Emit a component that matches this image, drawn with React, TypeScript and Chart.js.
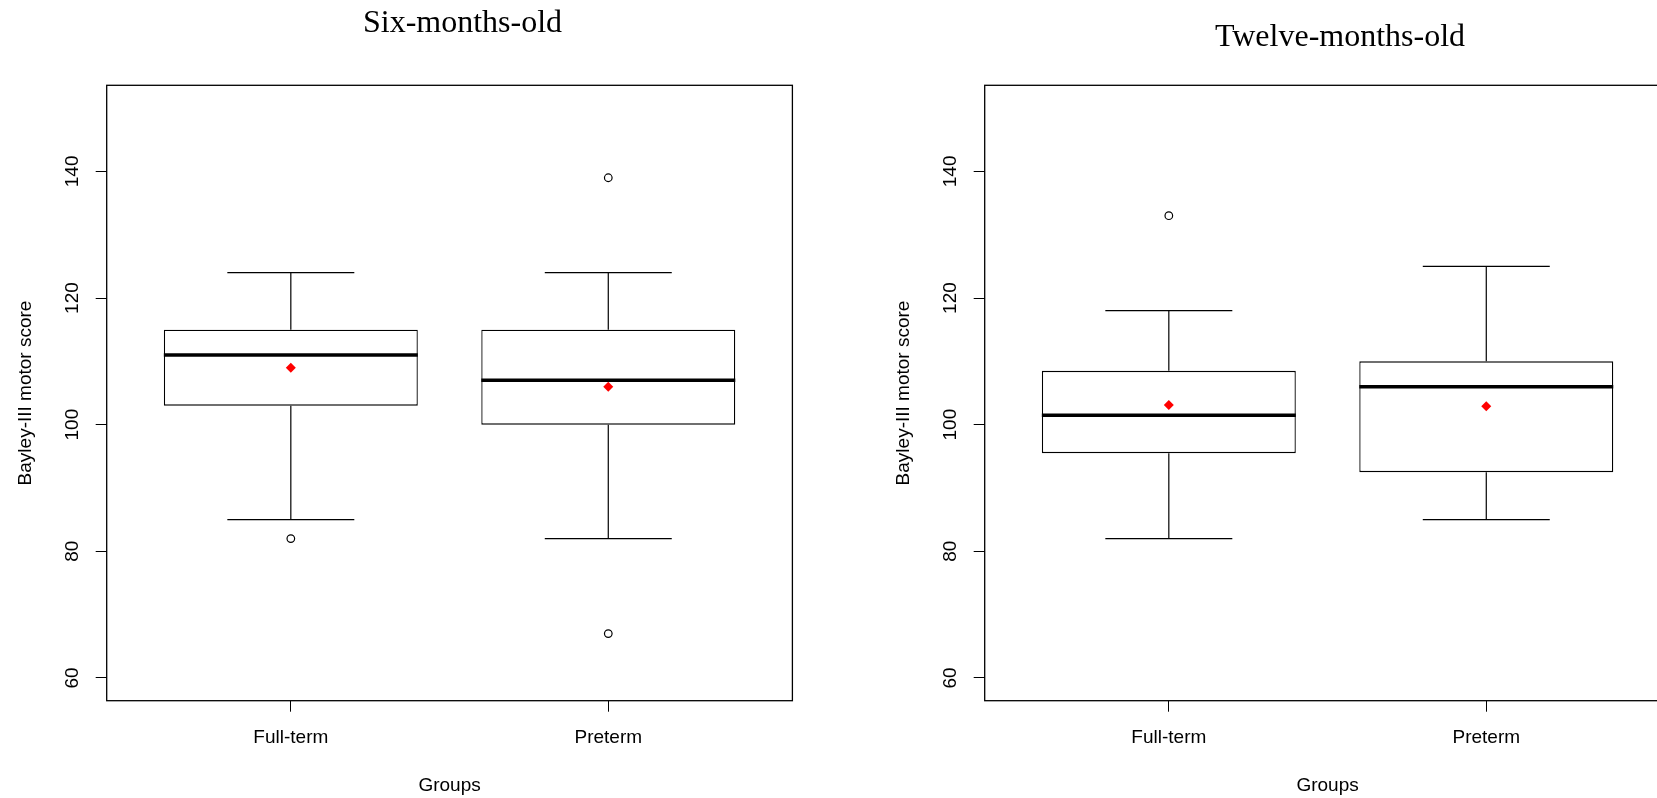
import React, { useEffect, useRef } from "react";
import { Chart, registerables } from "chart.js";

Chart.register(...registerables);

// ---- Data ----
const groups = ["Full-term", "Preterm"];
const yTicks = [60, 80, 100, 120, 140];
const yLimits = [60, 150];

// Six-months-old
const sixLower = [85, 82];
const sixQ1 = [103, 100];
const sixMedian = [111, 107];
const sixQ3 = [115, 115];
const sixUpper = [124, 124];
const sixMean = [109, 106];
const sixOutliers = [[82], [139, 67]];

// Twelve-months-old
const twelveLower = [82, 85];
const twelveQ1 = [95.5, 92.5];
const twelveMedian = [101.5, 106];
const twelveQ3 = [108.5, 110];
const twelveUpper = [118, 125];
const twelveMean = [103.1, 102.9];
const twelveOutliers = [[133], []];

// ---- Styling constants ----
const SANS = "'Liberation Sans', Arial, Helvetica, sans-serif";
const SERIF = "'Liberation Serif', 'Times New Roman', serif";
const BOX_HALF = 0.4;
const CAP_HALF = 0.2;

type Panel = {
  title: string;
  lower: number[];
  q1: number[];
  median: number[];
  q3: number[];
  upper: number[];
  mean: number[];
  outliers: number[][];
};

const sixPanel: Panel = {
  title: "Six-months-old",
  lower: sixLower,
  q1: sixQ1,
  median: sixMedian,
  q3: sixQ3,
  upper: sixUpper,
  mean: sixMean,
  outliers: sixOutliers,
};

const twelvePanel: Panel = {
  title: "Twelve-months-old",
  lower: twelveLower,
  q1: twelveQ1,
  median: twelveMedian,
  q3: twelveQ3,
  upper: twelveUpper,
  mean: twelveMean,
  outliers: twelveOutliers,
};

const boxDecor = {
  id: "boxDecor",
  afterDatasetDraw(chart: any, args: any, opts: any) {
    if (args.index !== 0) return;
    const p: Panel = opts.panel;
    const xs = chart.scales.x;
    const ys = chart.scales.y;
    const ctx = chart.ctx;
    const line = (x1: number, y1: number, x2: number, y2: number) => {
      ctx.beginPath();
      ctx.moveTo(x1, y1);
      ctx.lineTo(x2, y2);
      ctx.stroke();
    };
    ctx.save();
    ctx.strokeStyle = "#000";
    p.median.forEach((_, i) => {
      const c = i + 1;
      const cx = xs.getPixelForValue(c);
      const capL = xs.getPixelForValue(c - CAP_HALF);
      const capR = xs.getPixelForValue(c + CAP_HALF);
      ctx.lineWidth = 1.2;
      line(cx, ys.getPixelForValue(p.q3[i]), cx, ys.getPixelForValue(p.upper[i]));
      line(capL, ys.getPixelForValue(p.upper[i]), capR, ys.getPixelForValue(p.upper[i]));
      line(cx, ys.getPixelForValue(p.q1[i]), cx, ys.getPixelForValue(p.lower[i]));
      line(capL, ys.getPixelForValue(p.lower[i]), capR, ys.getPixelForValue(p.lower[i]));
      ctx.lineWidth = 3.5;
      line(
        xs.getPixelForValue(c - BOX_HALF),
        ys.getPixelForValue(p.median[i]),
        xs.getPixelForValue(c + BOX_HALF),
        ys.getPixelForValue(p.median[i])
      );
    });
    ctx.restore();
  },
};

const frame = {
  id: "frame",
  afterDraw(chart: any) {
    const { ctx, chartArea: a } = chart;
    ctx.save();
    ctx.strokeStyle = "#000";
    ctx.lineWidth = 1.3;
    ctx.strokeRect(a.left, a.top, a.right - a.left, a.bottom - a.top);
    ctx.restore();
  },
};

// centre the title over the whole canvas (R centres it over the figure region)
const titleSpan = {
  id: "titleSpan",
  afterLayout(chart: any) {
    const t = chart.titleBlock;
    if (t) {
      t.left = 0;
      t.right = chart.width;
      t.width = chart.width;
    }
  },
};

function BoxChart({
  panel,
  width,
  padRight,
  titleTop,
  titleBottom,
}: {
  panel: Panel;
  width: number;
  padRight: number;
  titleTop: number;
  titleBottom: number;
}) {
  const ref = useRef<HTMLCanvasElement>(null);
  useEffect(() => {
    const yExt = (yLimits[1] - yLimits[0]) * 0.04;
    const xLo = 0.5;
    const xHi = groups.length + 0.5;
    const xExt = (xHi - xLo) * 0.04;
    const chart = new Chart(ref.current as HTMLCanvasElement, {
      type: "bar",
      data: {
        datasets: [
          {
            type: "bar",
            data: groups.map((_, i) => ({ x: i + 1, y: [panel.q1[i], panel.q3[i]] })) as any,
            backgroundColor: "#ffffff",
            borderColor: "#000000",
            borderWidth: 1.3,
            borderSkipped: false,
            barPercentage: 0.8,
            categoryPercentage: 1,
            order: 3,
          } as any,
          {
            type: "scatter",
            data: panel.outliers.flatMap((vals, i) => vals.map((v) => ({ x: i + 1, y: v }))),
            pointStyle: "circle",
            pointRadius: 3.8,
            pointBorderWidth: 1.2,
            pointBorderColor: "#000",
            pointBackgroundColor: "rgba(0,0,0,0)",
            order: 2,
          } as any,
          {
            type: "scatter",
            data: panel.mean.map((v, i) => ({ x: i + 1, y: v })),
            pointStyle: "rectRot",
            pointRadius: 5,
            pointBorderWidth: 0,
            pointBorderColor: "#ff0000",
            pointBackgroundColor: "#ff0000",
            order: 1,
          } as any,
        ],
      },
      options: {
        responsive: false,
        animation: false,
        devicePixelRatio: 1,
        events: [],
        layout: { padding: { left: 0, right: padRight, top: 0, bottom: 0 } },
        plugins: {
          legend: { display: false },
          tooltip: { enabled: false },
          title: {
            display: true,
            text: panel.title,
            color: "#000",
            font: { family: SERIF, size: 32, weight: "normal", lineHeight: 1.2 },
            padding: { top: titleTop, bottom: titleBottom },
          },
          boxDecor: { panel },
        } as any,
        scales: {
          x: {
            type: "linear",
            min: xLo - xExt,
            max: xHi + xExt,
            offset: false,
            afterBuildTicks: (s: any) => {
              s.ticks = groups.map((_, i) => ({ value: i + 1 }));
            },
            afterFit: (s: any) => {
              s.height = 97.3;
            },
            ticks: {
              callback: (_v: any, idx: number) => groups[idx],
              color: "#000",
              font: { family: SANS, size: 19 },
              padding: 15,
              autoSkip: false,
              maxRotation: 0,
            },
            grid: {
              offset: false,
              drawOnChartArea: false,
              drawTicks: true,
              tickLength: 11,
              color: "#000",
              lineWidth: 1,
            },
            border: { display: false },
            title: {
              display: true,
              text: "Groups",
              color: "#000",
              font: { family: SANS, size: 19 },
              padding: { top: 0, bottom: 1 },
            },
          },
          y: {
            type: "linear",
            min: yLimits[0] - yExt,
            max: yLimits[1] + yExt,
            afterBuildTicks: (s: any) => {
              s.ticks = yTicks.map((v) => ({ value: v }));
            },
            afterFit: (s: any) => {
              s.width = 106.7;
            },
            ticks: {
              minRotation: 90,
              maxRotation: 90,
              crossAlign: "center",
              padding: 6.6,
              color: "#000",
              font: { family: SANS, size: 19 },
              autoSkip: false,
            },
            grid: {
              offset: false,
              drawOnChartArea: false,
              drawTicks: true,
              tickLength: 11,
              color: "#000",
              lineWidth: 1,
            },
            border: { display: false },
            title: {
              display: true,
              text: "Bayley-III motor score",
              color: "#000",
              font: { family: SANS, size: 19 },
              padding: { top: 14, bottom: 0 },
            },
          },
        } as any,
      },
      plugins: [titleSpan, boxDecor, frame],
    } as any);
    return () => chart.destroy();
  }, [panel, width, padRight, titleTop, titleBottom]);

  return (
    <canvas
      ref={ref}
      width={width}
      height={798}
      style={{ display: "block", width: width, height: 798 }}
    />
  );
}

export default function App() {
  return (
    <div
      style={{
        position: "fixed",
        left: 0,
        top: 0,
        width: 1657,
        height: 798,
        overflow: "hidden",
        background: "#ffffff",
      }}
    >
      <div style={{ position: "absolute", left: 0, top: 0 }}>
        <BoxChart panel={sixPanel} width={925} padRight={132.6} titleTop={4} titleBottom={42.9} />
      </div>
      <div style={{ position: "absolute", left: 878, top: 0 }}>
        <BoxChart panel={twelvePanel} width={924} padRight={131.6} titleTop={18} titleBottom={28.9} />
      </div>
    </div>
  );
}
